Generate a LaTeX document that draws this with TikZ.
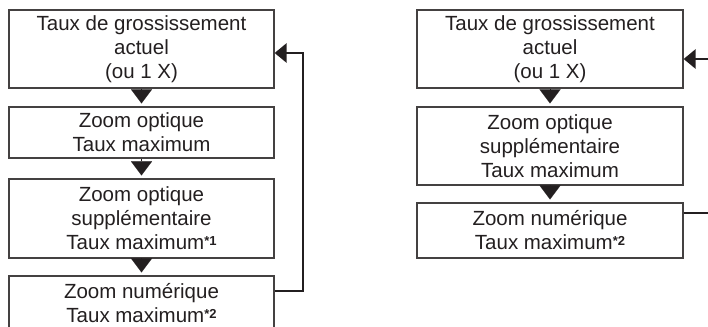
\documentclass[tikz,border=0pt]{standalone}
\usepackage{fontspec}
\setmainfont{Liberation Sans}
\usetikzlibrary{arrows.meta,calc}
\definecolor{ink}{HTML}{231F20}
\newcommand{\fnmark}[1]{\raisebox{4pt}{\fontsize{13}{13}\selectfont\bfseries *#1}}
\begin{document}
\begin{tikzpicture}[x=1pt,y=1pt,
  flowbox/.style={draw=ink!85, line width=1.2pt, inner sep=0pt, align=center,
    text=ink, font=\fontsize{20.5}{24}\selectfont},
  lbox/.style={flowbox, minimum width=265pt},
  rbox/.style={flowbox, minimum width=266pt},
  down/.style={draw=ink, line width=0.1pt, shorten >=3pt,
    -{Triangle[length=14pt,width=21pt]}},
  fb/.style={draw=ink, line width=2.8pt},
  fbarrow/.style={fb, -{Triangle[length=12pt,width=19pt]}}]
\useasboundingbox (0,0) rectangle (708,-326);
\clip (0,0) rectangle (708,-326);
% left chain
\node[lbox, minimum height=78pt] (L1) at (141.5,-49) {Taux de grossissement\\actuel\\(ou 1 X)};
\node[lbox, minimum height=51pt] (L2) at (141.5,-132.5) {Zoom optique\\Taux maximum};
\node[lbox, minimum height=79pt] (L3) at (141.5,-218.5) {Zoom optique\\suppl\'ementaire\\Taux maximum\fnmark{1}};
\node[lbox, minimum height=54pt] (L4) at (141.5,-303) {Zoom num\'erique\\Taux maximum\fnmark{2}};
\draw[down] (L1.south) -- (L2.north);
\draw[down] (L2.south) -- (L3.north);
\draw[down] (L3.south) -- (L4.north);
\coordinate (lout) at (141.5,-291);
\coordinate (lbend) at (303,-53);
\draw[fbarrow] (L4.east |- lout) -| (lbend) -- (L1.east |- lbend);
% right chain
\node[rbox, minimum height=78pt] (R1) at (550,-49) {Taux de grossissement\\actuel\\(ou 1 X)};
\node[rbox, minimum height=78pt] (R2) at (550,-146) {Zoom optique\\suppl\'ementaire\\Taux maximum};
\node[rbox, minimum height=55pt] (R3) at (550,-230.5) {Zoom num\'erique\\Taux maximum\fnmark{2}};
\draw[down] (R1.south) -- (R2.north);
\draw[down] (R2.south) -- (R3.north);
\coordinate (rin) at (712,-59);
\coordinate (rout) at (712,-213);
\draw[fbarrow] (rin) -- (R1.east |- rin);
\draw[fb] (R3.east |- rout) -- (rout);
\end{tikzpicture}
\end{document}
